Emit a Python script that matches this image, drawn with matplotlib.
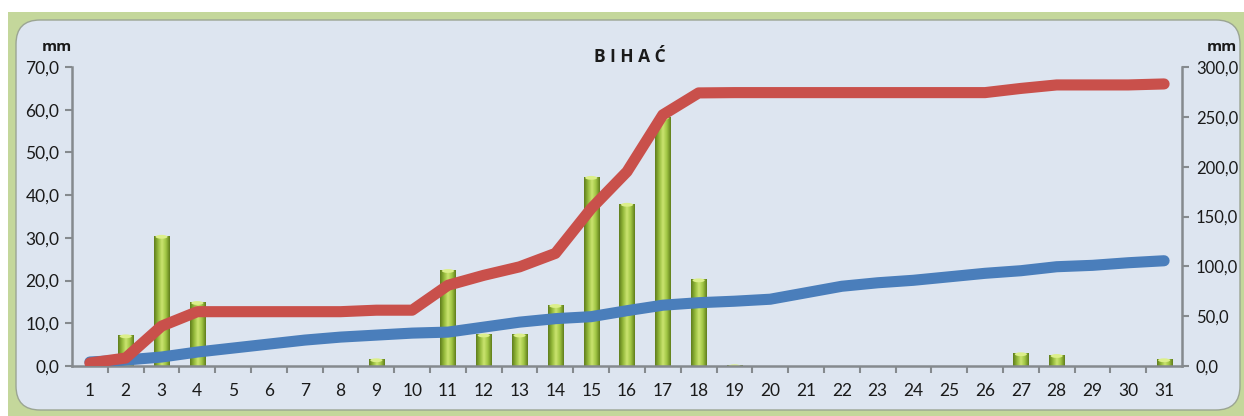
import numpy as np
import matplotlib.pyplot as plt
import matplotlib.transforms as mtransforms
from matplotlib.patches import FancyBboxPatch, Rectangle, Ellipse
from matplotlib.colors import LinearSegmentedColormap
from matplotlib.ticker import FuncFormatter, MultipleLocator, FixedLocator

plt.rcParams["font.family"] = ["Lato", "DejaVu Sans"]

# Daily precipitation (left axis) and cumulative sums (right axis), mm
days = list(range(1, 32))
daily = [0, 7.2, 30.5, 15.0, 0, 0, 0, 0, 1.6, 0,
         22.5, 7.4, 7.4, 14.3, 44.3, 38.0, 58.3, 20.3, 0.2, 0,
         0, 0, 0, 0, 0, 0, 3.0, 2.6, 0, 0, 1.6]
cumulative = [3, 8, 40, 54.5, 54.5, 54.5, 54.5, 54.5, 56, 56,
              81, 91, 99.5, 113, 158, 195, 252, 274, 274.3, 274.3,
              274.3, 274.3, 274.3, 274.3, 274.3, 274.3, 278.5, 282, 282, 282,
              283]
normal_cumulative = [4, 6, 9, 14, 18, 22, 26, 29, 31, 33,
                     34, 39, 44, 47.5, 49.5, 55.5, 61, 63.5, 65, 67,
                     73.5, 80, 83.5, 86, 89.5, 93, 95.6, 99.6, 101, 103.6,
                     105.6]

W, H = 1244, 416
fig = plt.figure(figsize=(W / 100, H / 100), dpi=100, facecolor="white")

# green frame and rounded chart panel, kept behind the axes
px = mtransforms.IdentityTransform()
fig.patches.append(Rectangle((8, 0), W - 8, H - 12, transform=px,
                             facecolor="#c4d79b", edgecolor="none", zorder=-3))
fig.patches.append(FancyBboxPatch((16 + 24, 6 + 24), 1224 - 48, 390 - 48,
                                  boxstyle="round,pad=24", transform=px,
                                  facecolor="#dde5f0", edgecolor="#9ba593",
                                  linewidth=1.0, zorder=-2))

ax = fig.add_axes([72 / W, 50 / H, 1110 / W, 299 / H])
ax.patch.set_visible(False)
ax2 = ax.twinx()
ax2.patch.set_visible(False)

axis_grey = "#858a8e"
text_col = "#1a1a1a"
fmt = FuncFormatter(lambda v, p: f"{v:.1f}".replace(".", ","))

# cylinder-style bars
bar_cmap = LinearSegmentedColormap.from_list(
    "cyl", ["#5f7d1c", "#93b93a", "#cbe470", "#a0c543", "#607e1c"])
bars = ax.bar(days, daily, width=0.42, color="#93b93a", edgecolor="none", zorder=2)
grad = np.linspace(0, 1, 64).reshape(1, -1)
for rect, v in zip(bars, daily):
    if v <= 0:
        continue
    x0 = rect.get_x()
    w = rect.get_width()
    im = ax.imshow(grad, extent=[x0, x0 + w, 0, v], aspect="auto",
                   cmap=bar_cmap, zorder=2.1)
    im.set_clip_path(rect)
    ax.add_patch(Ellipse((x0 + w / 2, v - 0.25), w * 0.8, 0.9,
                         facecolor="#dcef8a", edgecolor="none", zorder=2.2))

ax.set_xlim(0.5, 31.5)
ax.set_ylim(0, 70)
ax.yaxis.set_major_locator(MultipleLocator(10))
ax.yaxis.set_major_formatter(fmt)
ax.set_xticks(days)
ax.xaxis.set_minor_locator(FixedLocator(np.arange(1.5, 31.5, 1)))
ax.tick_params(axis="x", which="major", length=0, pad=12, labelsize=12.5,
               colors=text_col)
ax.tick_params(axis="x", which="minor", length=5, width=1.5, color=axis_grey)
ax.tick_params(axis="y", length=5, width=1.5, color=axis_grey, labelsize=12.5,
               labelcolor=text_col, pad=4)

# cumulative lines on the right axis
ax2.plot(days, normal_cumulative, color="#4a7ebb", lw=8,
         solid_capstyle="round", solid_joinstyle="round", zorder=3)
ax2.plot(days, cumulative, color="#c9504b", lw=8,
         solid_capstyle="round", solid_joinstyle="round", zorder=4)
ax2.set_ylim(0, 300)
ax2.yaxis.set_major_locator(MultipleLocator(50))
ax2.yaxis.set_major_formatter(fmt)
ax2.tick_params(axis="y", length=5, width=1.5, color=axis_grey, labelsize=12,
                labelcolor=text_col, pad=5)

for a in (ax, ax2):
    a.spines["top"].set_visible(False)
    for s in ("left", "right", "bottom"):
        a.spines[s].set_color(axis_grey)
        a.spines[s].set_linewidth(1.8)
ax.spines["right"].set_visible(False)
ax2.spines["left"].set_visible(False)
ax2.spines["bottom"].set_visible(False)

bold_font = ["Open Sans", "DejaVu Sans"]
fig.text(630 / W, 1 - 57 / H, "B I H A Ć", ha="center", va="center",
         fontsize=12.5, fontweight="bold", family=bold_font, color=text_col)
fig.text(57 / W, 1 - 47 / H, "mm", ha="center", va="center",
         fontsize=11, fontweight="bold", family=bold_font, color=text_col)
fig.text(1222 / W, 1 - 47 / H, "mm", ha="center", va="center",
         fontsize=11, fontweight="bold", family=bold_font, color=text_col)

fig.savefig("out.png", dpi=100, facecolor=fig.get_facecolor())
